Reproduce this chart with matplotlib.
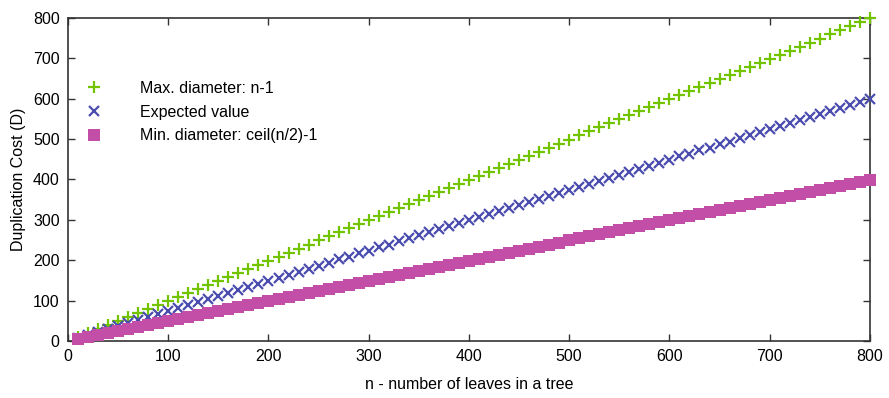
import numpy as np
import matplotlib
matplotlib.use("Agg")
import matplotlib.pyplot as plt

n = [10, 20, 30, 40, 50, 60, 70, 80, 90, 100, 110, 120, 130, 140, 150, 160, 170, 180, 190, 200,
     210, 220, 230, 240, 250, 260, 270, 280, 290, 300, 310, 320, 330, 340, 350, 360, 370, 380, 390, 400,
     410, 420, 430, 440, 450, 460, 470, 480, 490, 500, 510, 520, 530, 540, 550, 560, 570, 580, 590, 600,
     610, 620, 630, 640, 650, 660, 670, 680, 690, 700, 710, 720, 730, 740, 750, 760, 770, 780, 790, 800]
max_diam = [9, 19, 29, 39, 49, 59, 69, 79, 89, 99, 109, 119, 129, 139, 149, 159, 169, 179, 189, 199,
            209, 219, 229, 239, 249, 259, 269, 279, 289, 299, 309, 319, 329, 339, 349, 359, 369, 379, 389, 399,
            409, 419, 429, 439, 449, 459, 469, 479, 489, 499, 509, 519, 529, 539, 549, 559, 569, 579, 589, 599,
            609, 619, 629, 639, 649, 659, 669, 679, 689, 699, 709, 719, 729, 739, 749, 759, 769, 779, 789, 799]
expected = [7, 14, 22, 29, 37, 44, 52, 59, 67, 74, 82, 89, 97, 104, 112, 119, 127, 134, 142, 149,
            157, 164, 172, 179, 187, 194, 202, 209, 217, 224, 232, 239, 247, 254, 262, 269, 277, 284, 292, 299,
            307, 314, 322, 329, 337, 344, 352, 359, 367, 374, 382, 389, 397, 404, 412, 419, 427, 434, 442, 449,
            457, 464, 472, 479, 487, 494, 502, 509, 517, 524, 532, 539, 547, 554, 562, 569, 577, 584, 592, 599]
min_diam = [4, 9, 14, 19, 24, 29, 34, 39, 44, 49, 54, 59, 64, 69, 74, 79, 84, 89, 94, 99,
            104, 109, 114, 119, 124, 129, 134, 139, 144, 149, 154, 159, 164, 169, 174, 179, 184, 189, 194, 199,
            204, 209, 214, 219, 224, 229, 234, 239, 244, 249, 254, 259, 264, 269, 274, 279, 284, 289, 294, 299,
            304, 309, 314, 319, 324, 329, 334, 339, 344, 349, 354, 359, 364, 369, 374, 379, 384, 389, 394, 399]

plt.rcParams['font.family'] = ['Liberation Sans', 'DejaVu Sans']

fig = plt.figure(figsize=(8.89, 3.98), dpi=100)
ax = fig.add_axes([0.0765, 0.143, 0.902, 0.812])

ax.plot(n, max_diam, linestyle='none', marker='+', markersize=9, markeredgewidth=1.6,
        color='#72c400', label='Max. diameter: n-1', clip_on=False, zorder=3)
ax.plot(n, expected, linestyle='none', marker='x', markersize=7.5, markeredgewidth=1.6,
        color='#4b4dae', label='Expected value', clip_on=False, zorder=3)
ax.plot(n, min_diam, linestyle='none', marker='s', markersize=8, markeredgewidth=0,
        color='#c24ea8', label='Min. diameter: ceil(n/2)-1', clip_on=False, zorder=3)

ax.set_xlim(0, 800)
ax.set_ylim(0, 800)
ax.set_xticks(range(0, 801, 100))
ax.set_yticks(range(0, 801, 100))
ax.tick_params(direction='in', top=True, right=True, length=5, width=1, labelsize=11.5, pad=6,
               color='#333333')
for s in ax.spines.values():
    s.set_color('#333333')
    s.set_linewidth(1.2)
ax.set_xlabel('n - number of leaves in a tree', fontsize=11.5, labelpad=9)
ax.set_ylabel('Duplication Cost (D)', fontsize=11.5, labelpad=5)

leg = ax.legend(loc='upper left', bbox_to_anchor=(0.0, 0.85), frameon=False, fontsize=11.5,
                handletextpad=2.1, labelspacing=0.55, handlelength=1.5)

fig.savefig('out.png', dpi=100)
